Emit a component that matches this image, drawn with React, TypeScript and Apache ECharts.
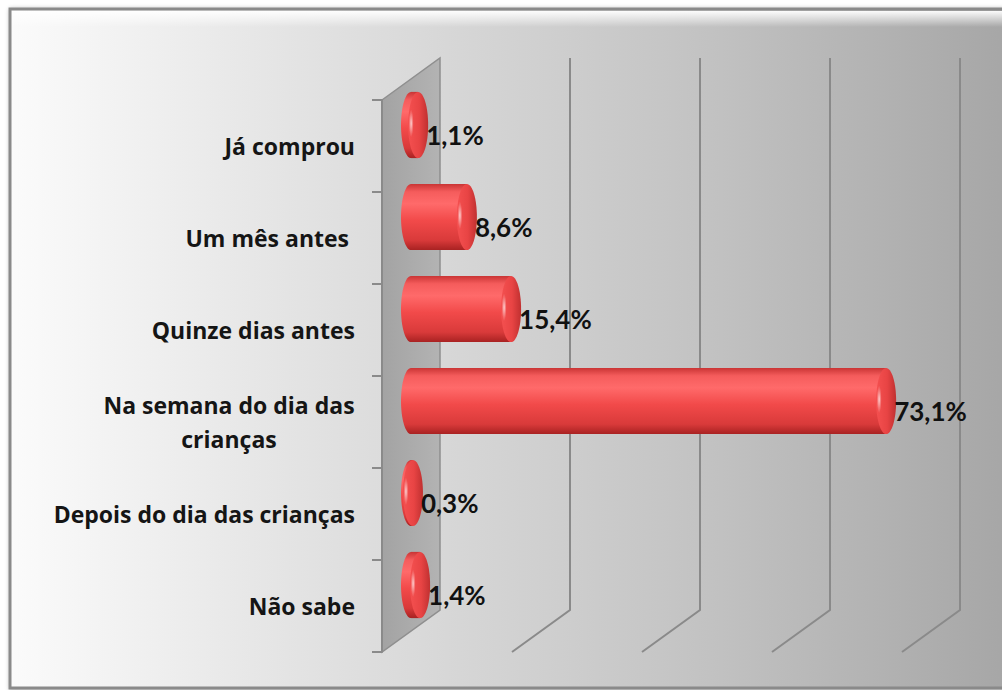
import React, { useEffect, useRef } from 'react';
import * as echarts from 'echarts';

const categories = [
  'Já comprou',
  'Um mês antes ',
  'Quinze dias antes',
  'Na semana do dia das\ncrianças',
  'Depois do dia das crianças',
  'Não sabe',
];
const values = [1.1, 8.6, 15.4, 73.1, 0.3, 1.4];
const xTicks = [0, 20, 40, 60, 80];

const DX = 58;
const DY = -42;
const LABEL_FONT = '"Open Sans", Lato, sans-serif';
const VALUE_FONT = 'Lato, "Open Sans", sans-serif';

const fmtPct = (v: number) => v.toFixed(1).replace('.', ',') + '%';

export default function App() {
  const ref = useRef<HTMLDivElement>(null);
  useEffect(() => {
    if (!ref.current) return;
    const chart = echarts.init(ref.current, undefined, { renderer: 'svg' });

    const bodyGrad = () =>
      new echarts.graphic.LinearGradient(0, 0, 0, 1, [
        { offset: 0, color: '#c93434' },
        { offset: 0.12, color: '#f55c5c' },
        { offset: 0.3, color: '#ff6a6a' },
        { offset: 0.55, color: '#f24a4a' },
        { offset: 0.85, color: '#d93a3a' },
        { offset: 1, color: '#a82222' },
      ]);

    const option: any = {
      animation: false,
      backgroundColor: '#ffffff',
      graphic: {
        elements: [
          {
            type: 'rect',
            z: 0,
            shape: { x: 10, y: 9, width: 1000, height: 679 },
            style: {
              fill: new echarts.graphic.LinearGradient(0, 0, 1, 0, [
                { offset: 0, color: '#fbfbfb' },
                { offset: 0.35, color: '#dedede' },
                { offset: 0.7, color: '#c2c2c2' },
                { offset: 1, color: '#a6a6a6' },
              ]),
              stroke: '#8a8a8a',
              lineWidth: 3,
              shadowBlur: 4,
              shadowColor: 'rgba(0,0,0,0.35)',
              shadowOffsetX: 1,
              shadowOffsetY: 1,
            },
          },
          {
            type: 'rect',
            z: 1,
            shape: { x: 12, y: 11, width: 996, height: 16 },
            style: {
              fill: new echarts.graphic.LinearGradient(0, 0, 0, 1, [
                { offset: 0, color: 'rgba(255,255,255,0.95)' },
                { offset: 1, color: 'rgba(255,255,255,0)' },
              ]),
            },
          },
        ],
      },
      grid: { left: 382, top: 100, width: 520, height: 552, containLabel: false },
      xAxis: {
        type: 'value',
        min: 0,
        max: 80,
        interval: 20,
        show: false,
      },
      yAxis: {
        type: 'category',
        data: categories,
        inverse: true,
        z: 6,
        axisLine: { show: true, lineStyle: { color: '#8a8a8a', width: 2 } },
        axisTick: { show: true, length: 10, lineStyle: { color: '#8a8a8a', width: 2 } },
        splitLine: { show: false },
        axisLabel: {
          margin: 27,
          fontFamily: LABEL_FONT,
          fontWeight: 'bold',
          fontSize: 23,
          color: '#151515',
          lineHeight: 34,
          formatter: (name: string) =>
            name.includes('\n')
              ? name
                  .split('\n')
                  .map((s) => `{w|${s}}`)
                  .join('\n')
              : name,
          rich: {
            w: {
              width: 252,
              align: 'center',
              fontFamily: LABEL_FONT,
              fontWeight: 'bold',
              fontSize: 23,
              color: '#151515',
              lineHeight: 34,
            },
          },
        },
      },
      series: [
        {
          type: 'custom',
          name: 'grid3d',
          z: 2,
          silent: true,
          data: xTicks.map((t) => [t, 0]),
          renderItem: (params: any, api: any) => {
            const cs = params.coordSys;
            const t = api.value(0);
            const x = api.coord([t, 0])[0];
            const top = cs.y;
            const bottom = cs.y + cs.height;
            if (t === 0) {
              return {
                type: 'polygon',
                shape: {
                  points: [
                    [x, top],
                    [x + DX, top + DY],
                    [x + DX, bottom + DY],
                    [x, bottom],
                  ],
                },
                style: {
                  fill: new echarts.graphic.LinearGradient(0, 0, 1, 0, [
                    { offset: 0, color: '#a3a3a3' },
                    { offset: 1, color: '#b3b3b3' },
                  ]),
                  stroke: '#8f8f8f',
                  lineWidth: 1.5,
                },
              };
            }
            return {
              type: 'polyline',
              shape: {
                points: [
                  [x, bottom],
                  [x + DX, bottom + DY],
                  [x + DX, top + DY],
                ],
              },
              style: { stroke: '#8a8a8a', lineWidth: 2, fill: 'none' },
            };
          },
        },
        {
          type: 'custom',
          name: 'bars',
          z: 3,
          data: values.map((v, i) => [v, i]),
          renderItem: (params: any, api: any) => {
            const v = api.value(0);
            const c = api.value(1);
            const p0 = api.coord([0, c]);
            const p1 = api.coord([v, c]);
            const band = api.size([0, 1])[1];
            const r = band * 0.36;
            const cy = p0[1] + DY / 2;
            const xb = p0[0] + DX / 2;
            const xe = p1[0] + DX / 2;
            const rx = 10;
            return {
              type: 'group',
              children: [
                {
                  type: 'ellipse',
                  shape: { cx: xb, cy, rx, ry: r },
                  style: { fill: bodyGrad() },
                },
                {
                  type: 'rect',
                  shape: { x: xb, y: cy - r, width: Math.max(xe - xb, 0), height: 2 * r },
                  style: { fill: bodyGrad() },
                },
                {
                  type: 'ellipse',
                  shape: { cx: xe, cy, rx, ry: r },
                  style: {
                    fill: new echarts.graphic.LinearGradient(0, 0, 1, 0, [
                      { offset: 0, color: '#f45050' },
                      { offset: 0.55, color: '#e84444' },
                      { offset: 1, color: '#c03030' },
                    ]),
                  },
                },
                {
                  type: 'ellipse',
                  shape: { cx: xe - rx * 0.7, cy: cy - r * 0.05, rx: 2.5, ry: r * 0.42 },
                  style: {
                    fill: new echarts.graphic.RadialGradient(0.5, 0.5, 0.5, [
                      { offset: 0, color: 'rgba(255,235,235,0.85)' },
                      { offset: 1, color: 'rgba(255,200,200,0)' },
                    ]),
                  },
                },
                {
                  type: 'text',
                  style: {
                    text: fmtPct(v),
                    x: xe + rx - 2,
                    y: cy + 10,
                    align: 'left',
                    verticalAlign: 'middle',
                    fontFamily: VALUE_FONT,
                    fontWeight: 'bold',
                    fontSize: 26,
                    fill: '#111111',
                  },
                },
              ],
            };
          },
        },
      ],
    };
    chart.setOption(option);
    return () => chart.dispose();
  }, []);
  return (
    <div
      ref={ref}
      style={{ position: 'fixed', left: 0, top: 0, width: 1002, height: 690 }}
    />
  );
}
